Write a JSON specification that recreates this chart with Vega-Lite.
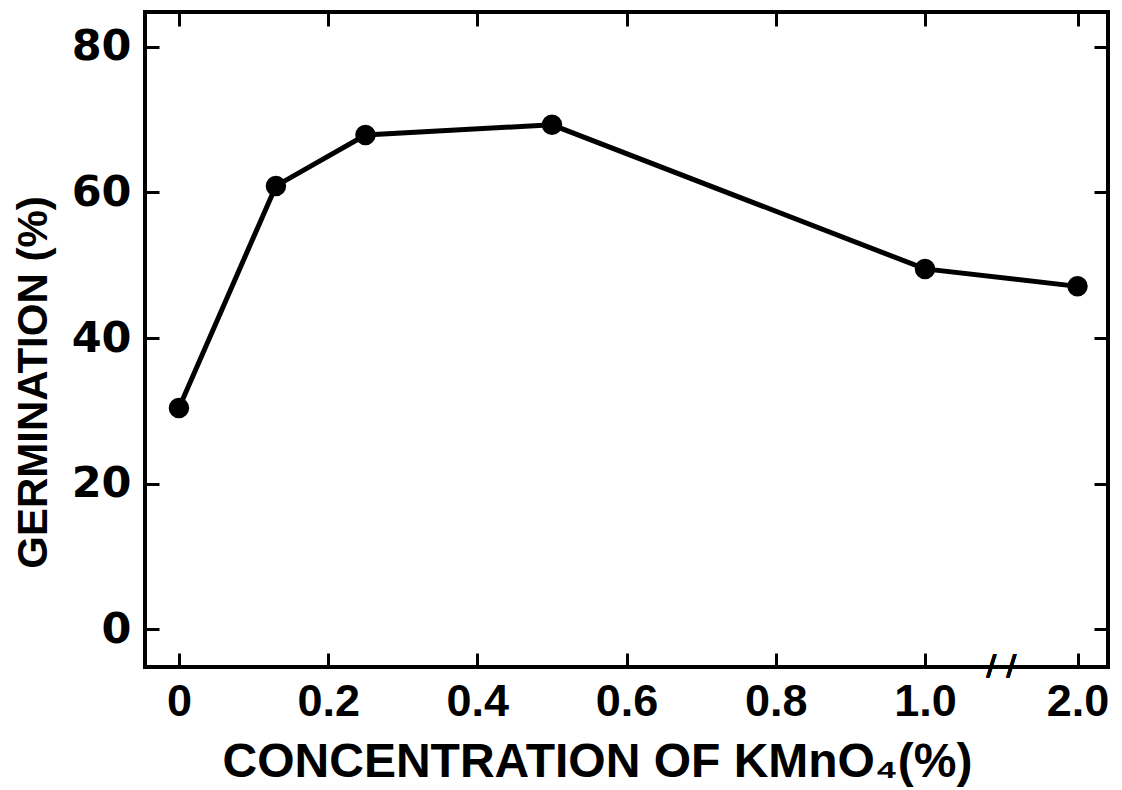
{
  "$schema": "https://vega.github.io/schema/vega-lite/v6.json",
  "width": 963,
  "height": 655,
  "autosize": "none",
  "padding": {"left": 145, "top": 12, "right": 14, "bottom": 123},
  "background": "white",
  "config": {
    "view": {"stroke": "black", "strokeWidth": 4},
    "font": "Liberation Sans",
    "axis": {"grid": false, "domain": false, "tickColor": "black", "tickWidth": 3, "labelColor": "black", "titleColor": "black"}
  },
  "data": {
    "values": [
      {"concentration": 0, "germination": 30.4},
      {"concentration": 0.13, "germination": 60.9},
      {"concentration": 0.25, "germination": 67.9},
      {"concentration": 0.5, "germination": 69.3},
      {"concentration": 1.0, "germination": 49.5},
      {"concentration": 2.0, "germination": 47.1}
    ]
  },
  "layer": [
    {
      "mark": {"type": "line", "color": "black", "strokeWidth": 5},
      "encoding": {
        "x": {
          "field": "concentration", "type": "quantitative",
          "scale": {"domain": [-0.0455, 1, 2.2], "range": [0, 780, 963], "nice": false, "zero": false},
          "axis": {
            "orient": "bottom", "values": [0, 0.2, 0.4, 0.6, 0.8, 1.0, 2.0],
            "labelExpr": "datum.value == 0 ? '0' : format(datum.value, '.1f')",
            "tickSize": -14, "labelPadding": 26, "labelFontSize": 45, "labelFontWeight": "bold", "labelFont": "Liberation Sans",
            "title": "CONCENTRATION OF KMnO₄(%)", "titleFontSize": 48, "titleFontWeight": "bold", "titleFont": "Liberation Sans",
            "titleX": 452, "titleY": 95, "titleBaseline": "middle", "titleAlign": "center"
          }
        },
        "y": {
          "field": "germination", "type": "quantitative",
          "scale": {"domain": [-5.2, 84.8], "nice": false, "zero": false},
          "axis": {
            "orient": "left", "values": [0, 20, 40, 60, 80],
            "tickSize": -14, "labelPadding": 28, "labelFontSize": 43, "labelFontWeight": "bold", "labelFont": "DejaVu Sans",
            "title": "GERMINATION (%)", "titleFontSize": 42, "titleFontWeight": "bold", "titleFont": "Liberation Sans",
            "titleX": -112, "titleY": 370, "titleBaseline": "middle", "titleAlign": "center", "titleAngle": -90
          }
        }
      }
    },
    {
      "mark": {"type": "point", "filled": true, "color": "black", "size": 420, "opacity": 1},
      "encoding": {
        "x": {"field": "concentration", "type": "quantitative",
          "axis": {"orient": "top", "values": [0, 0.2, 0.4, 0.6, 0.8, 1.0, 2.0], "labels": false, "title": null, "tickSize": -14}},
        "y": {"field": "germination", "type": "quantitative",
          "axis": {"orient": "right", "values": [0, 20, 40, 60, 80], "labels": false, "title": null, "tickSize": -14}}
      }
    },
    {
      "mark": {"type": "text", "text": "/ /", "fontSize": 28, "fontWeight": "bold", "font": "DejaVu Sans", "color": "black", "baseline": "middle", "align": "center"},
      "encoding": {
        "x": {"datum": 1.5, "type": "quantitative", "axis": null},
        "y": {"datum": -5.2, "type": "quantitative", "axis": null}
      }
    }
  ]
}
